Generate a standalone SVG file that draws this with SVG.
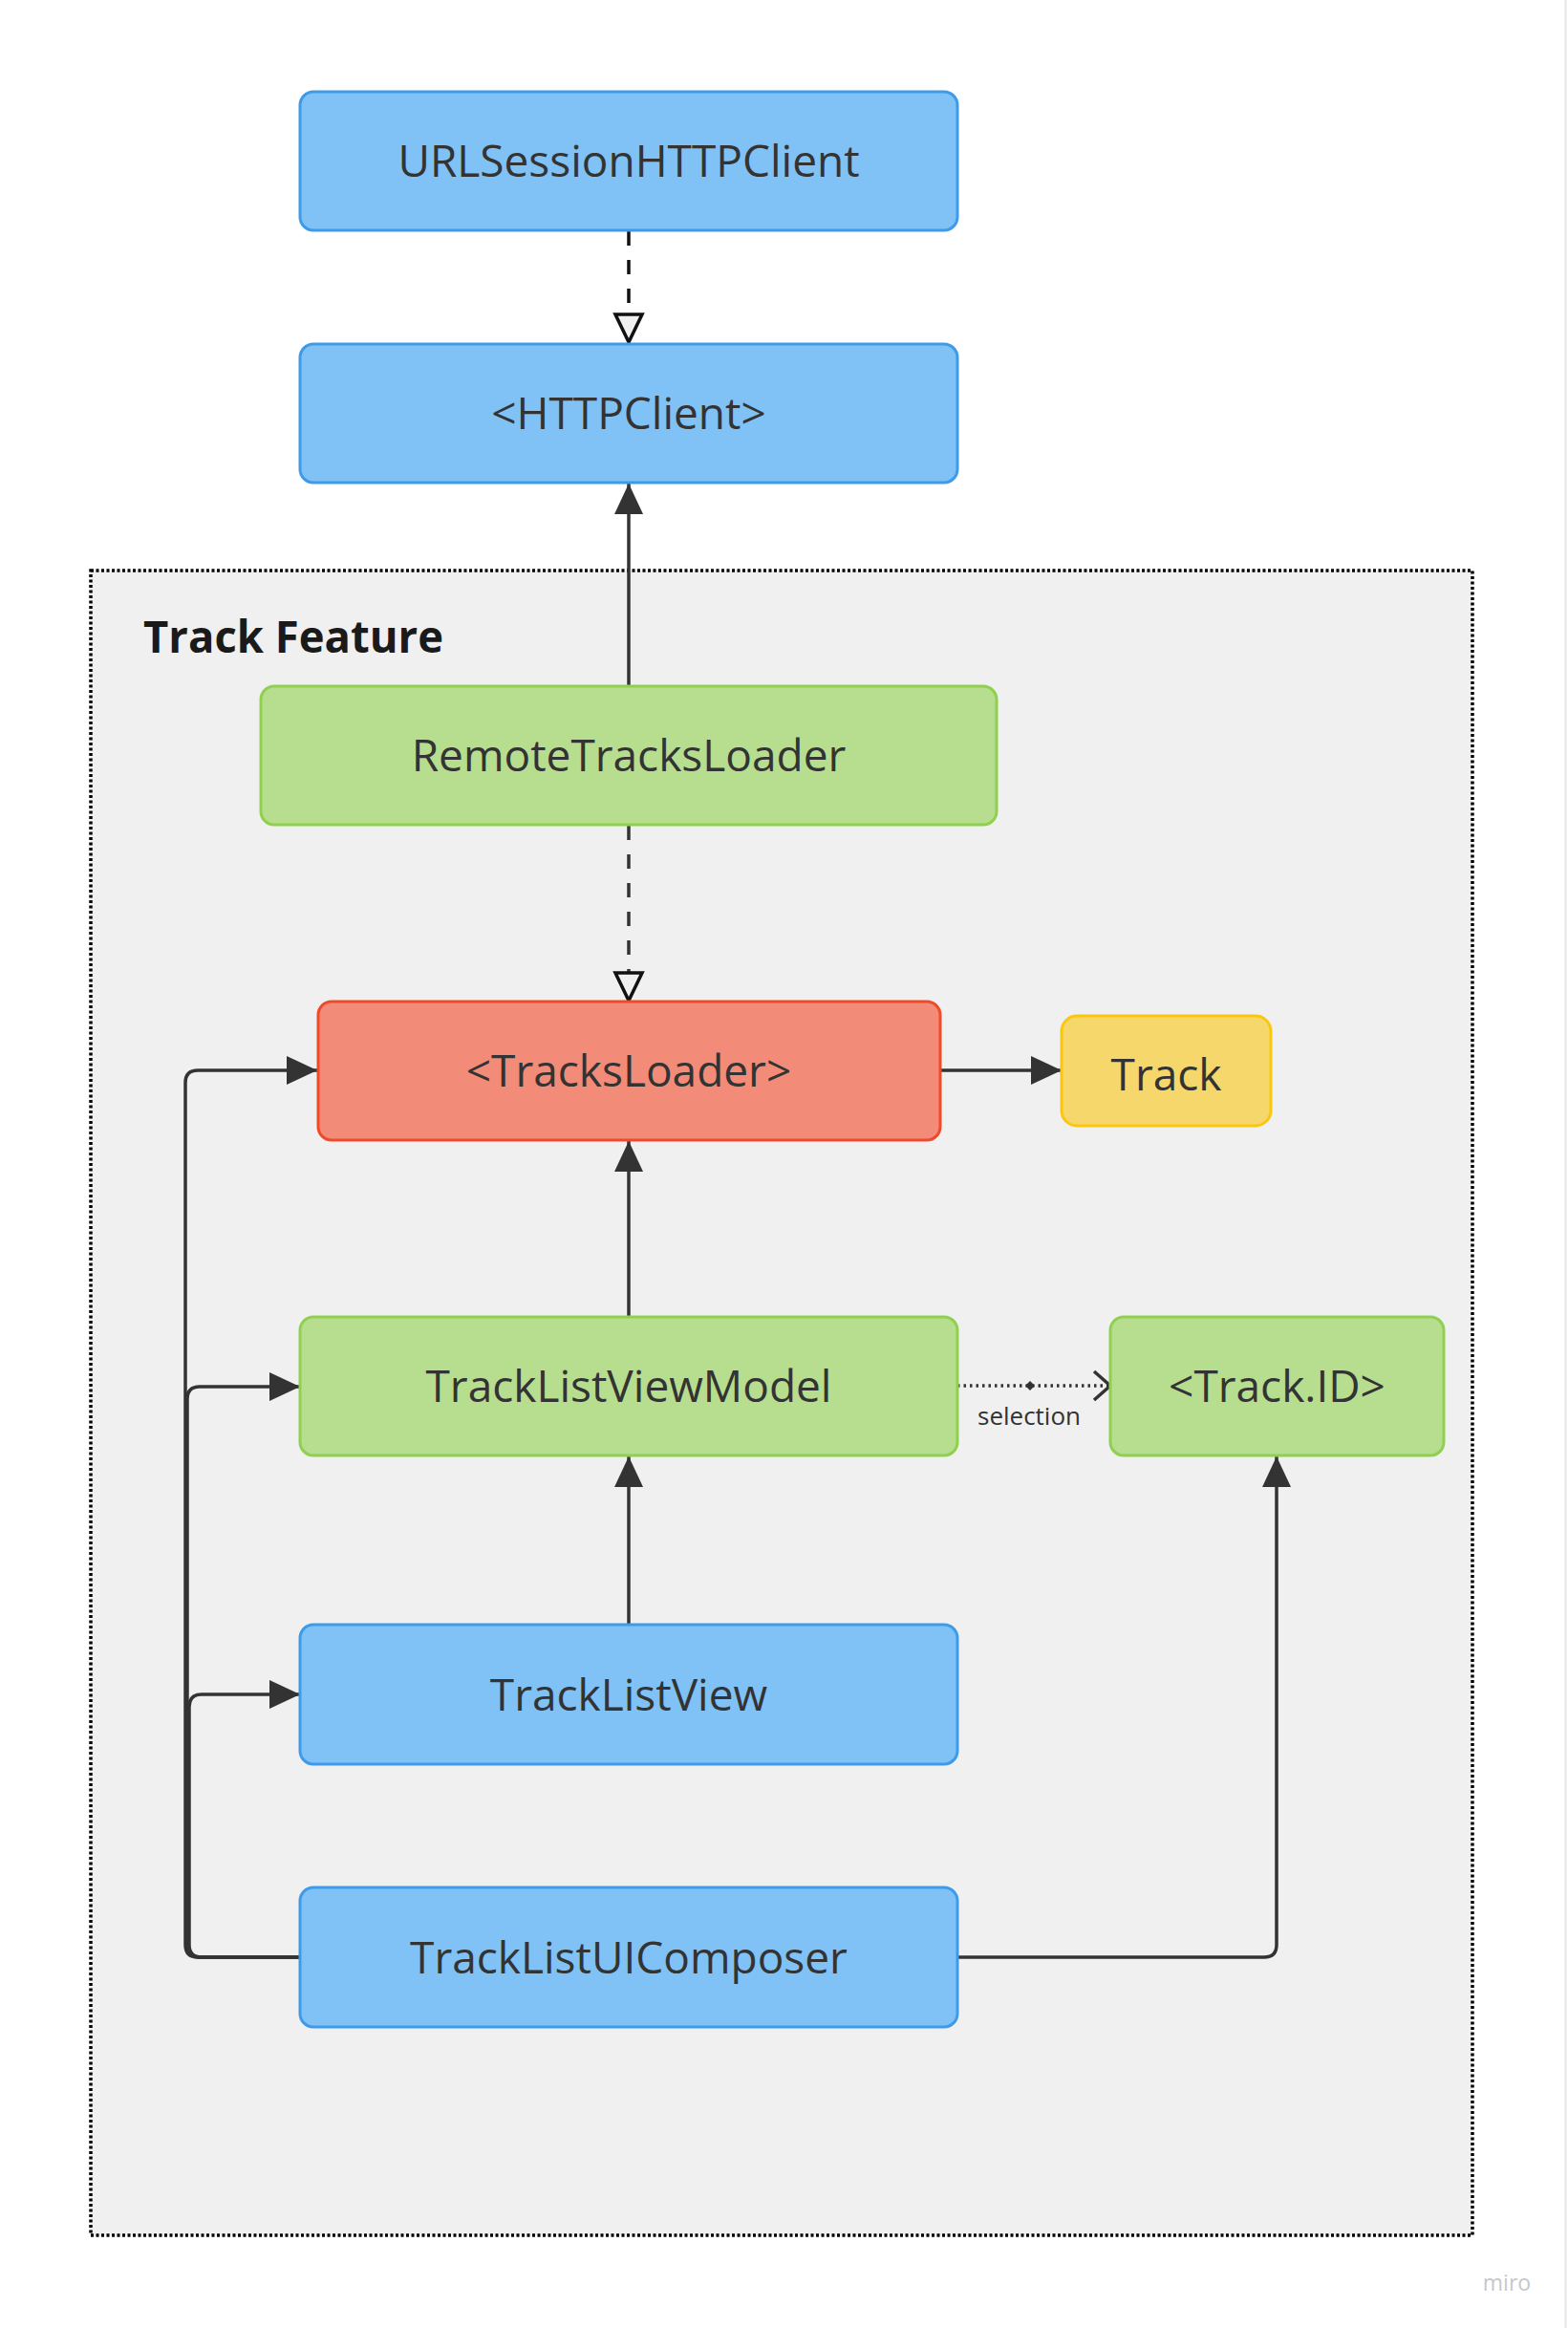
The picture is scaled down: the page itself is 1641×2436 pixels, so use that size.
<svg xmlns="http://www.w3.org/2000/svg" width="1641" height="2436" viewBox="0 0 1641 2436">
<style>
.lbl{font-family:"Open Sans","Liberation Sans",sans-serif;font-size:46px;fill:#333;text-anchor:middle}
.blue{fill:#80c2f5;stroke:#3d9be9;stroke-width:3}
.green{fill:#b7dd8f;stroke:#8fd14f;stroke-width:3}
.red{fill:#f28b78;stroke:#f04a2a;stroke-width:3}
.yellow{fill:#f5d76b;stroke:#fac710;stroke-width:3}
.conn{fill:none;stroke:#333;stroke-width:3.5}
</style>
<defs>
<marker id="arr" markerUnits="userSpaceOnUse" markerWidth="34" markerHeight="32" refX="32" refY="16" orient="auto" viewBox="0 0 34 32">
<path d="M0,1 L32,16 L0,31 z" fill="#333"/>
</marker>
<marker id="hollow" markerUnits="userSpaceOnUse" markerWidth="36" markerHeight="36" refX="32" refY="18" orient="auto" viewBox="0 0 36 36">
<path d="M3,4 L32,18 L3,32 z" fill="#f0f0f0" stroke="#111" stroke-width="3.5" stroke-linejoin="miter"/>
</marker>
<marker id="chev" markerUnits="userSpaceOnUse" markerWidth="24" markerHeight="36" refX="19" refY="18" orient="auto" viewBox="0 0 24 36">
<path d="M2,3 L19,18 L2,33" fill="none" stroke="#333" stroke-width="3.5"/>
</marker>
</defs>
<rect x="0" y="0" width="1641" height="2436" fill="#fff"/>
<line x1="1638.5" y1="0" x2="1638.5" y2="2436" stroke="#e6e6e6" stroke-width="2"/>

<g id="track-feature">
<rect x="95" y="597" width="1446" height="1742" fill="#f0f0f0" stroke="#000" stroke-width="3.5" stroke-dasharray="3 2.5"/>
<text x="150" y="683" font-family="'Open Sans','Liberation Sans',sans-serif" font-size="46" font-weight="bold" fill="#1a1a1a" textLength="314" lengthAdjust="spacingAndGlyphs">Track Feature</text>
</g>

<g id="connectors">
<path d="M658,242 V358" fill="none" stroke="#111" stroke-width="3.5" stroke-dasharray="15 15" marker-end="url(#hollow)"/>
<path d="M658,717 V506" class="conn" marker-end="url(#arr)"/>
<path d="M658,864 V1047" fill="none" stroke="#333" stroke-width="3.5" stroke-dasharray="15 15" marker-end="url(#hollow)"/>
<path d="M984,1120 H1111" class="conn" marker-end="url(#arr)"/>
<path d="M658,1378 V1194" class="conn" marker-end="url(#arr)"/>
<path d="M1002,1450 H1162" fill="none" stroke="#333" stroke-width="3.5" stroke-dasharray="2.5 4" marker-end="url(#chev)"/>
<path d="M1078,1445 L1083,1450 L1078,1455 L1073,1450 z" fill="#333"/>
<text x="1077" y="1491" font-family="'Open Sans','Liberation Sans',sans-serif" font-size="26" fill="#333" text-anchor="middle">selection</text>
<path d="M658,1700 V1524" class="conn" marker-end="url(#arr)"/>
<path d="M314,2048 H207 Q194,2048 194,2035 V1133 Q194,1120 207,1120 H332" class="conn" marker-end="url(#arr)"/>
<path d="M314,2048 H209 Q196,2048 196,2035 V1464 Q196,1451 209,1451 H314" class="conn" marker-end="url(#arr)"/>
<path d="M314,2048 H211 Q198,2048 198,2035 V1786 Q198,1773 211,1773 H314" class="conn" marker-end="url(#arr)"/>
<path d="M1002,2048 H1323 Q1336,2048 1336,2035 V1524" class="conn" marker-end="url(#arr)"/>
</g>

<g id="n-urlsession">
<rect class="blue" x="314" y="96" width="688" height="145" rx="14"/>
<text class="lbl" x="658" y="185">URLSessionHTTPClient</text>
</g>
<g id="n-httpclient">
<rect class="blue" x="314" y="360" width="688" height="145" rx="14"/>
<text class="lbl" x="658" y="449">&lt;HTTPClient&gt;</text>
</g>
<g id="n-remote">
<rect class="green" x="273" y="718" width="770" height="145" rx="14"/>
<text class="lbl" x="658" y="807">RemoteTracksLoader</text>
</g>
<g id="n-tracksloader">
<rect class="red" x="333" y="1048" width="651" height="145" rx="14"/>
<text class="lbl" x="658" y="1137">&lt;TracksLoader&gt;</text>
</g>
<g id="n-track">
<rect class="yellow" x="1111" y="1063" width="219" height="115" rx="16"/>
<text class="lbl" x="1220.5" y="1141">Track</text>
</g>
<g id="n-viewmodel">
<rect class="green" x="314" y="1378" width="688" height="145" rx="14"/>
<text class="lbl" x="658" y="1467">TrackListViewModel</text>
</g>
<g id="n-trackid">
<rect class="green" x="1162" y="1378" width="349" height="145" rx="14"/>
<text class="lbl" x="1336.5" y="1467">&lt;Track.ID&gt;</text>
</g>
<g id="n-listview">
<rect class="blue" x="314" y="1700" width="688" height="146" rx="14"/>
<text class="lbl" x="658" y="1790">TrackListView</text>
</g>
<g id="n-composer">
<rect class="blue" x="314" y="1975" width="688" height="146" rx="14"/>
<text class="lbl" x="658" y="2065">TrackListUIComposer</text>
</g>
<text x="1577" y="2397" font-family="'Open Sans','Liberation Sans',sans-serif" font-size="23" fill="#c6c6ce" text-anchor="middle">miro</text>
</svg>
